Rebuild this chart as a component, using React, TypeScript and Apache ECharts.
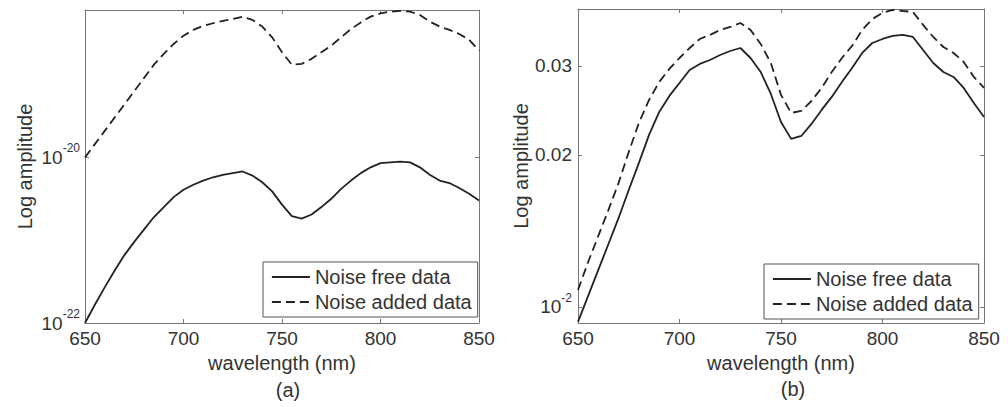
import React, { useEffect, useRef } from 'react';
import * as echarts from 'echarts';

// wavelength samples (nm)
const wavelengths = [650, 655, 660, 665, 670, 675, 680, 685, 690, 695, 700, 705, 710, 715, 720, 725, 730, 735, 740, 745, 750, 755, 760, 765, 770, 775, 780, 785, 790, 795, 800, 805, 810, 815, 820, 825, 830, 835, 840, 845, 850];

// panel (a): amplitude exponents (log10 of amplitude)
const leftNoiseFreeExp = [-22.0, -21.78, -21.57, -21.37, -21.18, -21.02, -20.87, -20.72, -20.6, -20.48, -20.39, -20.33, -20.28, -20.24, -20.21, -20.19, -20.17, -20.22, -20.3, -20.41, -20.57, -20.71, -20.74, -20.69, -20.6, -20.5, -20.38, -20.28, -20.19, -20.12, -20.07, -20.06, -20.05, -20.06, -20.12, -20.21, -20.28, -20.31, -20.37, -20.44, -20.52];
const leftNoiseAddedExp = [-20.0, -19.84, -19.68, -19.52, -19.36, -19.2, -19.04, -18.88, -18.75, -18.63, -18.53, -18.46, -18.41, -18.38, -18.35, -18.33, -18.3, -18.34, -18.42, -18.55, -18.73, -18.88, -18.87, -18.81, -18.73, -18.65, -18.55, -18.45, -18.37, -18.3, -18.26, -18.24, -18.23, -18.24, -18.28, -18.36, -18.42, -18.46, -18.51, -18.58, -18.71];

// panel (b): amplitudes
const rightNoiseFree = [0.00934, 0.01051, 0.01184, 0.01332, 0.015, 0.01704, 0.01928, 0.02191, 0.02433, 0.02617, 0.02776, 0.02946, 0.03028, 0.03083, 0.03154, 0.03212, 0.03256, 0.03111, 0.02919, 0.0264, 0.02324, 0.02151, 0.0218, 0.02303, 0.02455, 0.02605, 0.02789, 0.02973, 0.03183, 0.03331, 0.03393, 0.0344, 0.03456, 0.03424, 0.03227, 0.03041, 0.02919, 0.02853, 0.02714, 0.02534, 0.02378];
const rightNoiseAdded = [0.0108, 0.01227, 0.01382, 0.01556, 0.0176, 0.02027, 0.02314, 0.02569, 0.02789, 0.02959, 0.03111, 0.03256, 0.03393, 0.03456, 0.03535, 0.03584, 0.0365, 0.03535, 0.03317, 0.03041, 0.02629, 0.02422, 0.02444, 0.02557, 0.02714, 0.02919, 0.03111, 0.03287, 0.03535, 0.03717, 0.03821, 0.03873, 0.03855, 0.03838, 0.03617, 0.03424, 0.03271, 0.03183, 0.03055, 0.02853, 0.02714];

const seriesNames = ['Noise free data', 'Noise added data'];
const xMin = 650;
const xMax = 850;
const xInterval = 50;
const leftExpMin = -22;
const leftExpMax = -18.22;
const leftTickExps = [-22, -20];
const rightMin = 0.00929;
const rightMax = 0.0389;
const rightTickValues = [0.01, 0.02, 0.03];
const panelLabels = ['(a)', '(b)'];
const axisTitleX = 'wavelength (nm)';
const axisTitleY = 'Log amplitude';

const FONT = "'Liberation Sans', Arial, Helvetica, sans-serif";
const TEXT = '#333';
const AXIS = '#777';
const LINE = '#222';

export default function App() {
  const ref = useRef<HTMLDivElement>(null);
  useEffect(() => {
    document.body.style.margin = '0';
    const chart = echarts.init(ref.current!, null, { renderer: 'svg' });

    const rightTicks = rightTickValues.map((v) => Math.log10(v));

    const xBottom = (gridIndex: number) => ({
      type: 'value',
      gridIndex,
      position: 'bottom',
      min: xMin,
      max: xMax,
      interval: xInterval,
      name: axisTitleX,
      nameLocation: 'middle',
      nameGap: 29,
      nameTextStyle: { fontSize: 20, color: TEXT, fontFamily: FONT },
      axisLine: { show: true, lineStyle: { color: AXIS, width: 1 } },
      axisTick: { show: true, inside: true, length: 4, lineStyle: { color: AXIS } },
      axisLabel: { fontSize: 19, color: TEXT, fontFamily: FONT, margin: 6, showMinLabel: true, showMaxLabel: true },
      splitLine: { show: false },
    });
    const xTop = (gridIndex: number) => ({
      type: 'value',
      gridIndex,
      position: 'top',
      min: xMin,
      max: xMax,
      interval: xInterval,
      axisLine: { show: true, lineStyle: { color: AXIS, width: 1 } },
      axisTick: { show: true, inside: true, length: 4, lineStyle: { color: AXIS } },
      axisLabel: { show: false },
      splitLine: { show: false },
    });

    const rich = {
      b: { fontSize: 19, color: TEXT, fontFamily: FONT, lineHeight: 30 },
      s: { fontSize: 12, color: TEXT, fontFamily: FONT, verticalAlign: 'top', lineHeight: 12 },
    };

    const yLeftA = {
      type: 'value',
      gridIndex: 0,
      position: 'left',
      min: leftExpMin,
      max: leftExpMax,
      name: axisTitleY,
      nameLocation: 'middle',
      nameGap: 50,
      nameTextStyle: { fontSize: 20, color: TEXT, fontFamily: FONT },
      axisLine: { show: true, lineStyle: { color: AXIS, width: 1 } },
      axisTick: { show: true, inside: true, length: 4, customValues: leftTickExps, lineStyle: { color: AXIS } },
      axisLabel: {
        customValues: leftTickExps,
        margin: 5,
        color: TEXT,
        fontFamily: FONT,
        fontSize: 19,
        formatter: (v: number) => `{b|10}{s|${Math.round(v)}}`,
        rich,
      },
      splitLine: { show: false },
    };
    const yRightA = {
      type: 'value',
      gridIndex: 0,
      position: 'right',
      min: leftExpMin,
      max: leftExpMax,
      axisLine: { show: true, lineStyle: { color: AXIS, width: 1 } },
      axisTick: { show: true, inside: true, length: 4, customValues: leftTickExps, lineStyle: { color: AXIS } },
      axisLabel: { show: false },
      splitLine: { show: false },
    };
    const yLeftB = {
      type: 'value',
      gridIndex: 1,
      position: 'left',
      min: Math.log10(rightMin),
      max: Math.log10(rightMax),
      name: axisTitleY,
      nameLocation: 'middle',
      nameGap: 45,
      nameTextStyle: { fontSize: 20, color: TEXT, fontFamily: FONT },
      axisLine: { show: true, lineStyle: { color: AXIS, width: 1 } },
      axisTick: { show: true, inside: true, length: 4, customValues: rightTicks, lineStyle: { color: AXIS } },
      axisLabel: {
        customValues: rightTicks,
        margin: 6,
        color: TEXT,
        fontFamily: FONT,
        fontSize: 19,
        formatter: (v: number) => {
          const val = Math.pow(10, v);
          if (Math.abs(val - 0.01) < 1e-6) return '{b|10}{s|-2}';
          return val.toFixed(2);
        },
        rich,
      },
      splitLine: { show: false },
    };
    const yRightB = {
      type: 'value',
      gridIndex: 1,
      position: 'right',
      min: Math.log10(rightMin),
      max: Math.log10(rightMax),
      axisLine: { show: true, lineStyle: { color: AXIS, width: 1 } },
      axisTick: { show: true, inside: true, length: 4, customValues: rightTicks, lineStyle: { color: AXIS } },
      axisLabel: { show: false },
      splitLine: { show: false },
    };

    const solidStyle = { color: LINE, width: 1.8, type: 'solid' };
    const dashStyle = { color: LINE, width: 1.8, type: [9, 5] };

    const mkSeries = (name: string, xIdx: number, yIdx: number, data: number[][], style: any) => ({
      type: 'line',
      name,
      xAxisIndex: xIdx,
      yAxisIndex: yIdx,
      data,
      symbol: 'none',
      showSymbol: false,
      lineStyle: style,
      itemStyle: { color: LINE },
      emphasis: { disabled: true },
      z: 3,
    });

    const legendCommon = {
      orient: 'vertical',
      data: seriesNames,
      itemWidth: 38,
      itemHeight: 14,
      itemGap: 5,
      itemStyle: { color: 'rgba(0,0,0,0)', borderColor: 'rgba(0,0,0,0)', borderWidth: 0, opacity: 0 },
      lineStyle: { width: 1.8 },
      padding: [5, 6, 5, 8],
      borderColor: '#555',
      borderWidth: 1,
      backgroundColor: '#fff',
      textStyle: { fontSize: 20, color: TEXT, fontFamily: FONT, lineHeight: 20 },
      selectedMode: false,
    };

    const option: any = {
      animation: false,
      backgroundColor: '#fff',
      textStyle: { fontFamily: FONT },
      grid: [
        { left: 85, top: 10, width: 394, height: 313 },
        { left: 578, top: 9, width: 406, height: 314 },
      ],
      xAxis: [xBottom(0), xTop(0), xBottom(1), xTop(1)],
      yAxis: [yLeftA, yRightA, yLeftB, yRightB],
      legend: [
        { ...legendCommon, left: 263, top: 262 },
        { ...legendCommon, left: 764, top: 264 },
      ],
      series: [
        mkSeries(seriesNames[0], 0, 0, wavelengths.map((w, i) => [w, leftNoiseFreeExp[i]]), solidStyle),
        mkSeries(seriesNames[1], 0, 0, wavelengths.map((w, i) => [w, leftNoiseAddedExp[i]]), dashStyle),
        mkSeries(seriesNames[0], 2, 2, wavelengths.map((w, i) => [w, Math.log10(rightNoiseFree[i])]), solidStyle),
        mkSeries(seriesNames[1], 2, 2, wavelengths.map((w, i) => [w, Math.log10(rightNoiseAdded[i])]), dashStyle),
      ],
      graphic: [
        {
          type: 'text',
          x: 288,
          y: 390,
          style: { text: panelLabels[0], fontSize: 20, fontFamily: FONT, fill: TEXT, align: 'center', verticalAlign: 'middle', textAlign: 'center', textVerticalAlign: 'middle' },
        },
        {
          type: 'text',
          x: 793,
          y: 389,
          style: { text: panelLabels[1], fontSize: 20, fontFamily: FONT, fill: TEXT, align: 'center', verticalAlign: 'middle', textAlign: 'center', textVerticalAlign: 'middle' },
        },
      ],
    };

    chart.setOption(option);
    return () => chart.dispose();
  }, []);
  return <div ref={ref} style={{ width: 1008, height: 407 }} />;
}
